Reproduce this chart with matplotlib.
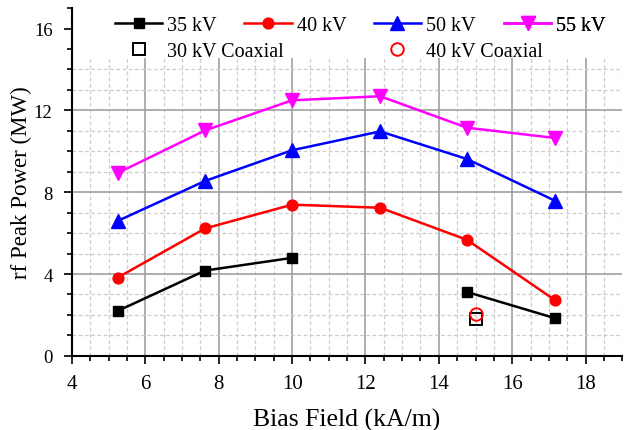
import numpy as np
import matplotlib
matplotlib.use("Agg")
import matplotlib.pyplot as plt
from matplotlib.ticker import MultipleLocator

plt.rcParams["font.family"] = ["Liberation Serif", "DejaVu Serif"]

# bias field (kA/m) and rf peak power (MW) per voltage
bias = [5.25, 7.63, 10.0, 12.4, 14.77, 17.17]
p35 = [2.20, 4.17, 4.79, np.nan, 3.12, 1.84]
p40 = [3.83, 6.23, 7.39, 7.24, 5.67, 2.72]
p50 = [6.60, 8.55, 10.05, 10.97, 9.62, 7.58]
p55 = [8.94, 11.02, 12.49, 12.69, 11.15, 10.65]

coax_bias = [15.0]
coax30 = [1.78]
coax40 = [2.04]

fig = plt.figure(figsize=(6.26, 4.31), dpi=100)
ax = fig.add_axes([0.115, 0.172, 0.879, 0.807])

lw = 1.8
l35, = ax.plot(bias, p35, color="black", lw=lw, marker="s", ms=7.2, label="35 kV", zorder=3)
l40, = ax.plot(bias, p40, color="red", lw=lw, marker="o", ms=7.8, label="40 kV", zorder=3)
l50, = ax.plot(bias, p50, color="blue", lw=lw, marker="^", ms=9.5, label="50 kV", zorder=3)
l55, = ax.plot(bias, p55, color="magenta", lw=lw, marker="v", ms=9.5, label="55 kV", zorder=3)
c30, = ax.plot(coax_bias, coax30, ls="none", marker="s", ms=8.5, mfc="none", mec="black",
               mew=1.4, label="30 kV Coaxial", zorder=3)
c40, = ax.plot(coax_bias, coax40, ls="none", marker="o", ms=9, mfc="none", mec="red",
               mew=1.4, label="40 kV Coaxial", zorder=3)

ax.set_xlim(4, 19)
ax.set_ylim(0, 17)
ax.xaxis.set_major_locator(MultipleLocator(2))
ax.xaxis.set_minor_locator(MultipleLocator(0.5))
ax.yaxis.set_major_locator(MultipleLocator(4))
ax.yaxis.set_minor_locator(MultipleLocator(1))

ax.set_axisbelow(True)
ax.grid(which="major", color="#a0a0a0", lw=1.2, ls="-")
ax.grid(which="minor", color="#cccccc", lw=0.9, ls=(0, (3, 2)))

# white band behind the legend
ax.axhspan(14.55, 17, color="white", zorder=1, lw=0)

for s in ["top", "right"]:
    ax.spines[s].set_visible(False)
for s in ["left", "bottom"]:
    ax.spines[s].set_linewidth(1.5)

ax.tick_params(which="major", length=6, width=1.2, direction="out")
ax.tick_params(which="minor", length=3.6, width=1.2, direction="out")
ax.tick_params(axis="x", which="major", labelsize=15, pad=7)
ax.tick_params(axis="y", which="major", labelsize=13.5, pad=8)

ax.set_xlabel("Bias Field (kA/m)", fontsize=18.5, labelpad=11)
ax.set_ylabel("rf Peak Power (MW)", fontsize=16.5, labelpad=1)

# legend columns placed one by one
cols = [([l35, c30], 0.078), ([l40], 0.313), ([l50, c40], 0.548), ([l55], 0.785)]
for handles, x0 in cols:
    leg = ax.legend(handles=handles, loc="upper left", bbox_to_anchor=(x0, 0.977),
                    frameon=False, fontsize=14.5, handlelength=2.35, handletextpad=0.25,
                    borderpad=0, borderaxespad=0, labelspacing=0.35)
    ax.add_artist(leg)

fig.savefig("out.png", dpi=100)
